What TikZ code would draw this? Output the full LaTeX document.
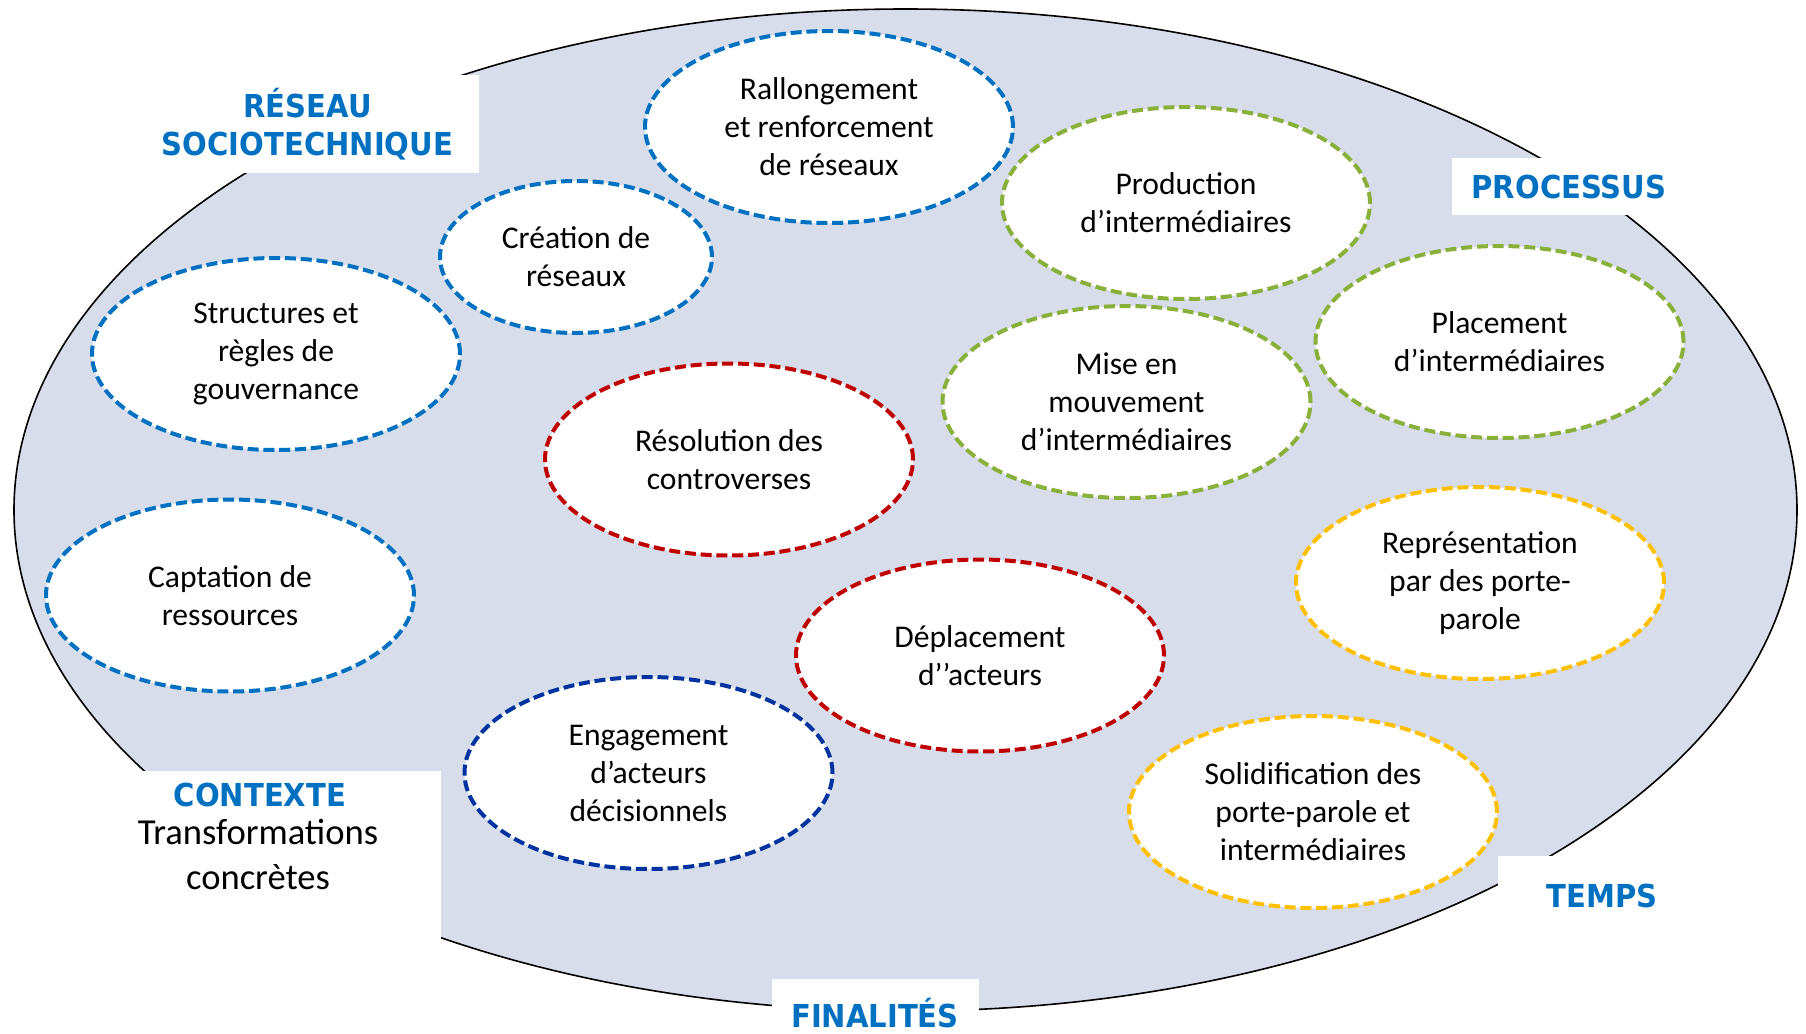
\documentclass[tikz,border=0pt]{standalone}
\usepackage{fontspec}
\setmainfont{Carlito}
\newfontfamily\lblfont[FakeStretch=0.92]{DejaVu Sans}
\usetikzlibrary{shapes.geometric}
\definecolor{bgfill}{HTML}{D7DDEB}
\definecolor{lblblue}{HTML}{0070C0}
\definecolor{cblue}{HTML}{0070C0}
\definecolor{cdblue}{HTML}{0033A0}
\definecolor{cred}{HTML}{C00000}
\definecolor{cgreen}{HTML}{8AB03C}
\definecolor{cyellow}{HTML}{FFC000}
\begin{document}
\begin{tikzpicture}[x=0.5pt,y=-0.5pt,
  bubble/.style={ellipse, draw, fill=white, line width=2pt, dash pattern=on 5.5pt off 2.4pt,
    inner sep=0pt, align=center, font=\fontsize{15.8}{19}\selectfont,
    minimum width=184pt, minimum height=96pt},
  whitebox/.style={fill=white},
  lbl/.style={text=lblblue, font=\lblfont\bfseries\fontsize{15.8}{19}\selectfont, align=center, inner sep=0pt}]
\useasboundingbox (0,0) rectangle (1806,1034);
\node[ellipse, draw=black, line width=0.8pt, fill=bgfill, minimum width=891.5pt, minimum height=501pt, inner sep=0pt] (big) at (905.5,510) {};
% white label boxes
\fill[whitebox] (150,75) rectangle (479,173);
\fill[whitebox] (1452,158) rectangle (1720,215);
\fill[whitebox] (130,771) rectangle (441,950);
\fill[whitebox] (1498,856) rectangle (1720,950);
\fill[whitebox] (772,979) rectangle (979,1034);
% labels
\node[lbl] (reseau) at (307.5,124) {RÉSEAU\\SOCIOTECHNIQUE};
\node[lbl] (proc) at (1569,187) {PROCESSUS};
\node[lbl] (ctx) at (260,795) {CONTEXTE};
\node[font=\fontsize{18.3}{22.5}\selectfont, align=center, inner sep=0pt] (transf) at (258,854) {Transformations\\concrètes};
\node[lbl] (temps) at (1602,896) {TEMPS};
\node[lbl] (fin) at (875,1013) {FINALITÉS};
% bubbles
\node[bubble, draw=cblue] (rall) at (829,127) {Rallongement\\et renforcement\\de réseaux};
\node[bubble, draw=cblue, minimum width=136pt, minimum height=76pt] (crea) at (576,257) {Création de\\réseaux};
\node[bubble, draw=cblue] (struc) at (276,354) {Structures et\\règles de\\gouvernance};
\node[bubble, draw=cblue] (capt) at (230,595.5) {Captation de\\ressources};
\node[bubble, draw=cred] (reso) at (729,459.5) {Résolution des\\controverses};
\node[bubble, draw=cred] (depl) at (980,655.5) {Déplacement\\d’’acteurs};
\node[bubble, draw=cdblue] (enga) at (648.5,773) {Engagement\\d’acteurs\\décisionnels};
\node[bubble, draw=cgreen] (prod) at (1186,203) {Production\\d’intermédiaires};
\node[bubble, draw=cgreen] (mise) at (1126.5,402) {Mise en\\mouvement\\d’intermédiaires};
\node[bubble, draw=cgreen] (plac) at (1499.5,342) {Placement\\d’intermédiaires};
\node[bubble, draw=cyellow] (repr) at (1480,583) {Représentation\\par des porte-\\parole};
\node[bubble, draw=cyellow] (soli) at (1313,812) {Solidification des\\porte-parole et\\intermédiaires};
\end{tikzpicture}
\end{document}
